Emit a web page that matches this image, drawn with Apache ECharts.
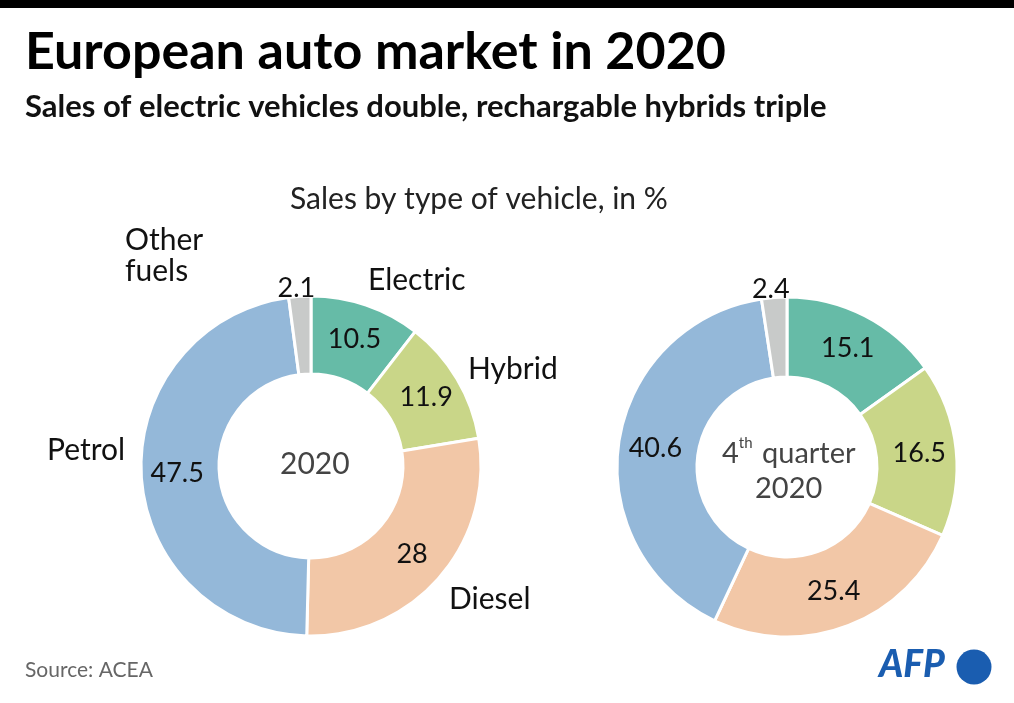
<!DOCTYPE html>
<html><head><meta charset="utf-8">
<script src="https://cdn.jsdelivr.net/npm/echarts@6/dist/echarts.min.js"></script>
<style>html,body{margin:0;padding:0;background:#fff}#c{width:1014px;height:703px}</style>
</head><body><div id="c"></div>
<script>
const categories = ['Electric', 'Hybrid', 'Diesel', 'Petrol', 'Other fuels'];
const year2020 = [10.5, 11.9, 28, 47.5, 2.1];
const q4_2020 = [15.1, 16.5, 25.4, 40.6, 2.4];
const colors = ['#66bba7', '#c9d688', '#f2c7a7', '#94b8d9', '#c8cac9'];
const FONT = 'Lato';

function mk(vals) {
  return vals.map((v, i) => {
    const d = { name: categories[i], value: v, itemStyle: { color: colors[i] } };
    if (i === 4) {
      d.label = { position: 'outside', distanceToLabelLine: -16 };
      d.labelLine = { show: false, length: 8, length2: 0 };
    }
    return d;
  });
}
const labelStyle = { show: true, position: 'inside', formatter: '{c}', fontFamily: FONT, fontSize: 27, color: '#111' };

const chart = echarts.init(document.getElementById('c'));
const nameText = (t, x, y) => ({ type: 'text', left: x, top: y, style: { text: t, fontFamily: FONT, fontSize: 30, fill: '#111', lineHeight: 31 } });

chart.setOption({
  animation: false,
  backgroundColor: '#fff',
  graphic: [
    { type: 'rect', left: 0, top: 0, shape: { width: 1014, height: 8 }, style: { fill: '#000' } },
    { type: 'text', left: 25, top: 26, style: { text: 'European auto market in 2020', fontFamily: FONT, fontWeight: 'bold', fontSize: 52, fill: '#000' } },
    { type: 'text', left: 25, top: 91, style: { text: 'Sales of electric vehicles double, rechargable hybrids triple', fontFamily: FONT, fontWeight: 'bold', fontSize: 31, fill: '#111' } },
    { type: 'text', left: 290, top: 184, style: { text: 'Sales by type of vehicle, in %', fontFamily: FONT, fontSize: 30, fill: '#222' } },
    nameText('Other\nfuels', 125, 225),
    nameText('Electric', 368, 265),
    nameText('Hybrid', 468, 354),
    nameText('Petrol', 47, 435),
    nameText('Diesel', 449, 584),
    { type: 'text', left: 280, top: 449, style: { text: '2020', fontFamily: FONT, fontSize: 30, fill: '#444' } },
    { type: 'text', left: 722, top: 436, style: { text: '4{sup|th} quarter', fontFamily: FONT, fontSize: 29, fill: '#444', lineHeight: 35, rich: { sup: { fontSize: 15, verticalAlign: 'top', fill: '#444', fontFamily: FONT, padding: [0, 2, 12, 0] } } } },
    { type: 'text', left: 755, top: 471, style: { text: '2020', fontFamily: FONT, fontSize: 29, fill: '#444', lineHeight: 35 } },
    { type: 'text', left: 25, top: 660, style: { text: 'Source: ACEA', fontFamily: FONT, fontSize: 21, fill: '#666' } },
    { type: 'text', left: 879, top: 647, style: { text: 'AFP', fontFamily: FONT, fontSize: 37, fontWeight: 900, fontStyle: 'italic', fill: '#1a5db0' } },
    { type: 'circle', shape: { cx: 974, cy: 667, r: 17.5 }, style: { fill: '#1a5db0' } }
  ],
  series: [
    { type: 'pie', center: [311, 466], radius: [92, 170], startAngle: 90, clockwise: true,
      itemStyle: { borderColor: '#fff', borderWidth: 3 }, label: labelStyle, labelLine: { show: false },
      emphasis: { disabled: true }, data: mk(year2020) },
    { type: 'pie', center: [787, 467], radius: [90, 170], startAngle: 90, clockwise: true,
      itemStyle: { borderColor: '#fff', borderWidth: 3 }, label: labelStyle, labelLine: { show: false },
      emphasis: { disabled: true }, data: mk(q4_2020) }
  ]
});
</script></body></html>
